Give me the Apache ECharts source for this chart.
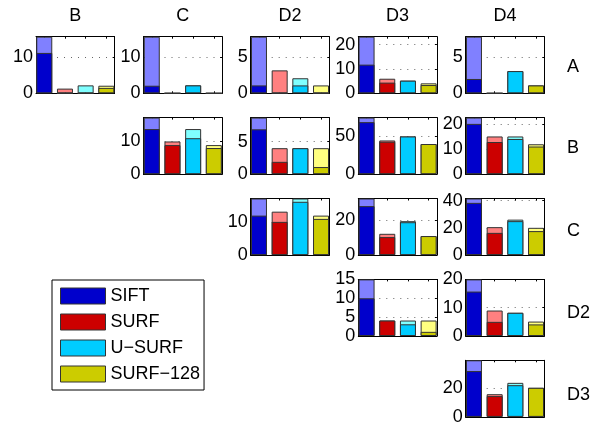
<!DOCTYPE html>
<html>
<head>
<meta charset="utf-8">
<script src="https://cdn.jsdelivr.net/npm/echarts@6/dist/echarts.min.js"></script>
<style>
  html, body { margin: 0; padding: 0; background: #fff; }
  #chart { width: 612px; height: 428px; }
</style>
</head>
<body>
<div id="chart"></div>
<script>
// Pairwise comparison matrix: one small bar panel per (row, column) pair.
const colNames = ['B', 'C', 'D2', 'D3', 'D4'];
const rowNames = ['A', 'B', 'C', 'D2', 'D3'];
const methods = ['SIFT', 'SURF', 'U\u2212SURF', 'SURF\u2212128'];

// Panel order: A-B, A-C, A-D2, A-D3, A-D4, B-C, B-D2, B-D3, B-D4,
//              C-D2, C-D3, C-D4, D2-D3, D2-D4, D3-D4
const cellRow = [0, 0, 0, 0, 0, 1, 1, 1, 1, 2, 2, 2, 3, 3, 4];
const cellCol = [0, 1, 2, 3, 4, 1, 2, 3, 4, 2, 3, 4, 3, 4, 4];
const tickStep = [10, 10, 5, 10, 5, 10, 5, 50, 10, 10, 20, 20, 5, 10, 20];

// total = full (light) bar, correct = dark part
const siftTotal     = [15.7, 15.7, 7.9, 23.3, 7.9, 17.3, 8.7, 75, 22.5, 17.2, 32.7, 41.5, 15, 20, 38.9];
const siftCorrect   = [11.2, 2.1, 1.1, 11.8, 2.0, 13.8, 6.9, 69, 20, 12.0, 28.3, 38.3, 10, 15.7, 31.5];
const surfTotal     = [1.3, 0, 3.2, 6.0, 0, 10.0, 4.0, 44.7, 15, 13.2, 12.3, 20.5, 4.1, 9.0, 15.6];
const surfCorrect   = [0, 0, 0, 4.4, 0, 8.9, 1.9, 43, 12.8, 10.1, 10.4, 16.3, 4.1, 5.0, 14.3];
const usurfTotal    = [2.2, 2.2, 2.1, 5.2, 3.1, 13.8, 4.0, 50, 15, 17.2, 19.6, 26, 4.1, 8.2, 23.4];
const usurfCorrect  = [0, 2.2, 1.1, 5.2, 3.1, 11.0, 4.0, 50, 14, 16.2, 19, 24.9, 3.1, 8.2, 21.8];
const surf128Total  = [2.1, 0, 1.1, 4.1, 1.1, 8.9, 4.0, 40, 11.9, 12.0, 11, 20, 4.1, 5.1, 20];
const surf128Correct= [1.5, 0, 0, 3.4, 1.1, 8.0, 1.1, 40, 11, 11.0, 11, 17.6, 1.1, 4.1, 20];

const totals = [siftTotal, surfTotal, usurfTotal, surf128Total];
const corrects = [siftCorrect, surfCorrect, usurfCorrect, surf128Correct];

const darkColors = ['#0000CC', '#CC0000', '#00CCFF', '#CCCC00'];
const lightColors = ['#8080FF', '#FF8080', '#80FFFF', '#FFFF80'];

// Layout of the panel matrix
const FONT = '"Liberation Sans", Arial, Helvetica, sans-serif';
const colLeft = [36, 143.5, 250.7, 358.3, 465.7];
const rowTop = [36.7, 117.6, 198.5, 279.4, 360.3];
const plotW = 78.6, plotH = 56.6;
const rowLabelY = [66.7, 148.3, 231.3, 313.3, 394.7];

const grids = [], xAxes = [], yAxes = [], series = [];

cellRow.forEach((r, i) => {
  const c = cellCol[i];
  const yMax = Math.max(...totals.map(t => t[i]));
  const step = tickStep[i];
  const ticks = [];
  for (let v = 0; v <= yMax + 1e-9; v += step) ticks.push(v);

  grids.push({ left: colLeft[c], top: rowTop[r], width: plotW, height: plotH, containLabel: false });

  const xBase = { type: 'value', gridIndex: i, min: 0.6, max: 4.4,
    axisLine: { show: true, onZero: false, lineStyle: { color: '#000', width: 1 } },
    axisLabel: { show: false }, splitLine: { show: false } };
  xAxes.push(Object.assign({}, xBase, { position: 'bottom',
    axisTick: { show: true, inside: true, length: 2, customValues: [1, 2, 3, 4], lineStyle: { color: '#000' } } }));
  xAxes.push(Object.assign({}, xBase, { position: 'top',
    axisTick: { show: true, inside: true, length: 2, customValues: [1, 2, 3, 4], lineStyle: { color: '#000' } } }));

  const yBase = { type: 'value', gridIndex: i, min: 0, max: yMax, interval: step,
    axisLine: { show: true, onZero: false, lineStyle: { color: '#000', width: 1 } } };
  yAxes.push(Object.assign({}, yBase, { position: 'left',
    axisTick: { show: true, inside: true, length: 2, customValues: ticks, lineStyle: { color: '#000' } },
    axisLabel: { show: true, customValues: ticks, margin: 3, color: '#000', fontSize: 18, fontFamily: FONT },
    splitLine: { show: true, lineStyle: { color: '#666', width: 1, type: [1, 6] } } }));
  yAxes.push(Object.assign({}, yBase, { position: 'right',
    axisTick: { show: true, inside: true, length: 2, customValues: ticks, lineStyle: { color: '#000' } },
    axisLabel: { show: false }, splitLine: { show: false } }));

  methods.forEach((m, k) => {
    const common = { type: 'bar', xAxisIndex: 2 * i, yAxisIndex: 2 * i, barWidth: 16, barGap: '-100%',
      silent: true };
    series.push(Object.assign({}, common, { name: m + ' total',
      itemStyle: { color: lightColors[k], borderColor: '#333', borderWidth: 1 },
      data: [[k + 1, totals[k][i]]] }));
    series.push(Object.assign({}, common, { name: m,
      itemStyle: { color: darkColors[k], borderColor: '#333', borderWidth: 1 },
      data: [[k + 1, corrects[k][i]]] }));
  });
});

const graphics = [];
colNames.forEach((t, c) => graphics.push({ type: 'text', x: colLeft[c] + plotW / 2, y: 16,
  style: { text: t, font: '18px ' + FONT, textAlign: 'center', textVerticalAlign: 'middle', fill: '#000' } }));
rowNames.forEach((t, r) => graphics.push({ type: 'text', x: 567, y: rowLabelY[r],
  style: { text: t, font: '18px ' + FONT, textAlign: 'left', textVerticalAlign: 'middle', fill: '#000' } }));

const chart = echarts.init(document.getElementById('chart'), null, { renderer: 'canvas' });
chart.setOption({
  animation: false,
  backgroundColor: '#fff',
  grid: grids,
  xAxis: xAxes,
  yAxis: yAxes,
  series: series,
  graphic: graphics,
  legend: {
    data: methods,
    orient: 'vertical',
    left: 52, top: 280,
    padding: [7, 4, 7, 8],
    itemWidth: 45, itemHeight: 16, itemGap: 8,
    icon: 'rect',
    borderColor: '#000', borderWidth: 1,
    selectedMode: false,
    itemStyle: { borderColor: '#333', borderWidth: 1 },
    textStyle: { fontSize: 18, lineHeight: 16, color: '#000', fontFamily: FONT }
  }
});
</script>
</body>
</html>
